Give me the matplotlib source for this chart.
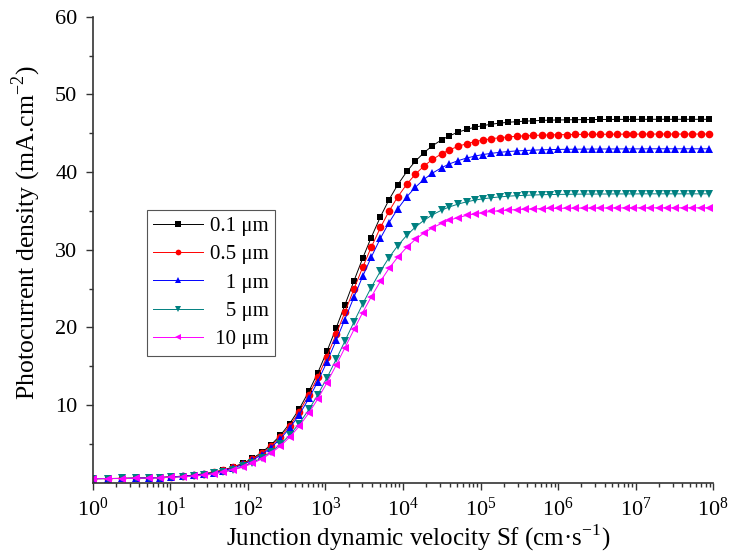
import numpy as np
import matplotlib
matplotlib.use('Agg')
import matplotlib.pyplot as plt
from matplotlib.ticker import LogLocator, NullFormatter

# log10 of the junction velocity Sf (cm/s) at each plotted point
log_sf = [0.00, 0.20, 0.38, 0.56, 0.72, 0.87, 1.01, 1.16, 1.30, 1.44,
          1.56, 1.68, 1.81, 1.94, 2.06, 2.18, 2.30, 2.42, 2.54, 2.66,
          2.79, 2.90, 3.02, 3.14, 3.25, 3.37, 3.48, 3.59, 3.71, 3.82,
          3.93, 4.05, 4.16, 4.27, 4.38, 4.50, 4.60, 4.71, 4.82, 4.93,
          5.03, 5.14, 5.25, 5.36, 5.47, 5.57, 5.68, 5.79, 5.90, 6.00,
          6.11, 6.22, 6.33, 6.44, 6.54, 6.65, 6.76, 6.87, 6.97, 7.08,
          7.19, 7.30, 7.41, 7.51, 7.62, 7.73, 7.84, 7.95]

# photocurrent density (mA/cm2) for each thickness
j_01 = [0.52, 0.54, 0.56, 0.59, 0.63, 0.68, 0.75, 0.85, 0.98, 1.16,
        1.37, 1.63, 2.02, 2.52, 3.13, 3.91, 4.89, 6.12, 7.62, 9.45,
        11.82, 14.12, 16.92, 19.96, 22.85, 26.04, 28.89, 31.57, 34.26, 36.44,
        38.33, 40.08, 41.41, 42.50, 43.39, 44.17, 44.68, 45.14, 45.50, 45.79,
        45.99, 46.17, 46.31, 46.42, 46.50, 46.56, 46.61, 46.66, 46.69, 46.71,
        46.73, 46.75, 46.76, 46.77, 46.78, 46.78, 46.79, 46.79, 46.79, 46.80,
        46.80, 46.80, 46.80, 46.80, 46.80, 46.80, 46.80, 46.80]
j_05 = [0.52, 0.54, 0.56, 0.58, 0.62, 0.67, 0.74, 0.83, 0.96, 1.13,
        1.33, 1.59, 1.96, 2.44, 3.02, 3.77, 4.71, 5.89, 7.33, 9.09,
        11.36, 13.56, 16.24, 19.16, 21.93, 24.99, 27.72, 30.30, 32.87, 34.96,
        36.78, 38.45, 39.73, 40.78, 41.63, 42.37, 42.87, 43.31, 43.66, 43.93,
        44.12, 44.30, 44.43, 44.53, 44.62, 44.67, 44.72, 44.76, 44.79, 44.82,
        44.83, 44.85, 44.86, 44.87, 44.87, 44.88, 44.88, 44.89, 44.89, 44.89,
        44.90, 44.90, 44.90, 44.90, 44.90, 44.90, 44.90, 44.90]
j_1 = [0.52, 0.54, 0.55, 0.58, 0.62, 0.67, 0.73, 0.82, 0.94, 1.11,
       1.29, 1.54, 1.89, 2.36, 2.91, 3.63, 4.53, 5.66, 7.04, 8.72,
       10.89, 13.00, 15.57, 18.36, 21.01, 23.94, 26.56, 29.02, 31.49, 33.49,
       35.23, 36.83, 38.05, 39.06, 39.87, 40.58, 41.06, 41.47, 41.81, 42.07,
       42.26, 42.42, 42.55, 42.65, 42.73, 42.78, 42.83, 42.87, 42.90, 42.92,
       42.94, 42.95, 42.96, 42.97, 42.97, 42.98, 42.98, 42.99, 42.99, 42.99,
       43.00, 43.00, 43.00, 43.00, 43.00, 43.00, 43.00, 43.00]
j_5 = [0.52, 0.53, 0.55, 0.57, 0.60, 0.64, 0.70, 0.78, 0.88, 1.02,
       1.19, 1.40, 1.70, 2.10, 2.58, 3.20, 3.98, 4.96, 6.14, 7.60,
       9.47, 11.29, 13.51, 15.92, 18.21, 20.74, 23.00, 25.13, 27.26, 28.99,
       30.49, 31.87, 32.92, 33.79, 34.50, 35.11, 35.52, 35.88, 36.17, 36.40,
       36.56, 36.70, 36.81, 36.90, 36.97, 37.01, 37.05, 37.09, 37.11, 37.13,
       37.14, 37.16, 37.17, 37.17, 37.18, 37.18, 37.19, 37.19, 37.19, 37.20,
       37.20, 37.20, 37.20, 37.20, 37.20, 37.20, 37.20, 37.20]
j_10 = [0.52, 0.53, 0.54, 0.57, 0.60, 0.64, 0.69, 0.76, 0.86, 1.00,
        1.15, 1.36, 1.64, 2.03, 2.48, 3.07, 3.81, 4.74, 5.87, 7.25,
        9.03, 10.76, 12.88, 15.16, 17.35, 19.75, 21.90, 23.92, 25.95, 27.59,
        29.02, 30.33, 31.33, 32.16, 32.83, 33.41, 33.81, 34.15, 34.42, 34.64,
        34.79, 34.93, 35.03, 35.11, 35.18, 35.22, 35.26, 35.29, 35.32, 35.33,
        35.35, 35.36, 35.37, 35.37, 35.38, 35.38, 35.39, 35.39, 35.39, 35.40,
        35.40, 35.40, 35.40, 35.40, 35.40, 35.40, 35.40, 35.40]

labels = ['0.1 μm', '0.5 μm', '   1 μm', '   5 μm', ' 10 μm']
y_ticks = [10, 20, 30, 40, 50, 60]

plt.rcParams['font.family'] = ['Liberation Serif', 'DejaVu Serif']
plt.rcParams['mathtext.fontset'] = 'custom'
plt.rcParams['mathtext.rm'] = 'Liberation Serif'

sf = 10 ** np.array(log_sf)
series = [j_01, j_05, j_1, j_5, j_10]
colors = ['black', '#ff0000', '#0000ff', '#008080', '#ff00ff']
markers = ['s', 'o', '^', 'v', '<']
sizes = [5, 5.5, 6, 6, 6]

fig = plt.figure(figsize=(7.3, 5.6), dpi=100)
ax = fig.add_axes([0.127, 0.138, 0.850, 0.832])

for y, c, m, ms, lab in zip(series, colors, markers, sizes, labels):
    ax.plot(sf, y, color=c, marker=m, markersize=ms, linewidth=0.7,
            markeredgewidth=0, label=lab)

ax.set_xscale('log')
ax.set_xlim(1, 1e8)
ax.set_ylim(0, 60)
ax.set_yticks(y_ticks)
ax.set_yticks([5, 15, 25, 35, 45, 55], minor=True)
ax.xaxis.set_major_locator(LogLocator(base=10, numticks=20))
ax.xaxis.set_minor_locator(LogLocator(base=10, subs=np.arange(2, 10), numticks=20))
ax.xaxis.set_minor_formatter(NullFormatter())

for side in ['top', 'right']:
    ax.spines[side].set_visible(False)
for side in ['left', 'bottom']:
    ax.spines[side].set_linewidth(1.2)
    ax.spines[side].set_color('#333333')

ax.tick_params(which='major', direction='out', length=5, width=1.0,
               labelsize=16, color='#333333', pad=6)
ax.tick_params(which='minor', direction='out', length=2.8, width=1.0,
               color='#333333')

ax.set_xlabel('Junction dynamic velocity Sf (cm·s$^{\\mathdefault{-1}}$)',
              fontsize=18)
ax.set_ylabel('Photocurrent density (mA.cm$^{\\mathdefault{-2}}$)',
              fontsize=18.5)
ax.xaxis.set_label_coords(0.524, -0.085)
ax.yaxis.set_label_coords(-0.08, 0.538)

leg = ax.legend(loc='upper left', bbox_to_anchor=(0.087, 0.585),
                borderaxespad=0, fontsize=15, labelspacing=0.42,
                handlelength=2.4, handletextpad=0.35, borderpad=0.3,
                markerscale=0.75, fancybox=False, edgecolor='#555555',
                framealpha=1)
leg.get_frame().set_linewidth(0.8)

fig.savefig('out.png', dpi=100)
